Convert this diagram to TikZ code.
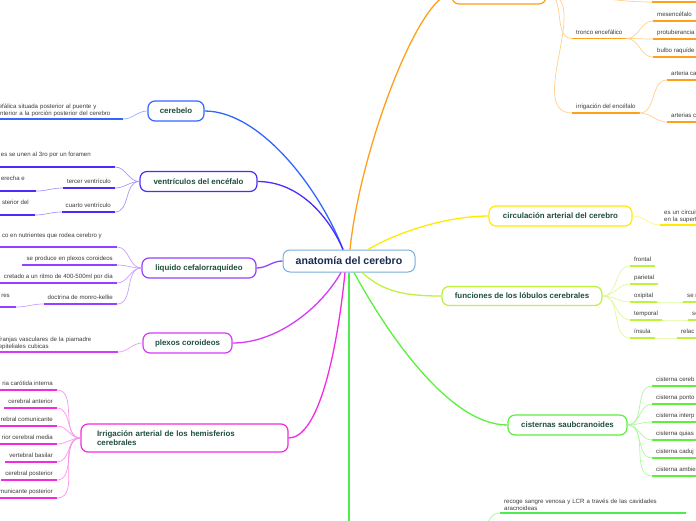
\documentclass[tikz,border=0pt]{standalone}
\usepackage{fontspec}
\setmainfont{Liberation Sans}
\usepackage{tikz}
\usetikzlibrary{positioning, calc}
\definecolor{anRoot}{HTML}{78AEDD}
\definecolor{anRootText}{HTML}{1A2A4F}
\definecolor{anText}{HTML}{1F4E3D}
\definecolor{anLeaf}{HTML}{3A3A3A}
\definecolor{anCereb}{HTML}{3366FF}
\definecolor{anVent}{HTML}{4A2CFF}
\definecolor{anLiq}{HTML}{9440FF}
\definecolor{anPlex}{HTML}{D63AF9}
\definecolor{anIrr}{HTML}{F42AE0}
\definecolor{anTronco}{HTML}{FF9F1C}
\definecolor{anCirc}{HTML}{FFEA00}
\definecolor{anFunc}{HTML}{BFF23A}
\definecolor{anCist}{HTML}{5CF03C}
\definecolor{anVenas}{HTML}{4DEB4D}
\newcommand{\leaffont}{\fontsize{6.1}{7}\selectfont}
\newcommand{\topicfont}{\bfseries\fontsize{7.9}{9}\selectfont}
\newcommand{\rootfont}{\bfseries\fontsize{10.6}{12}\selectfont}
\tikzset{
  uline/.style={append after command={
    (\tikzlastnode.south west) edge[draw=#1, line width=1.8pt] (\tikzlastnode.south east)}},
  leaf/.style={uline=#1, font=\leaffont, text=anLeaf, inner xsep=4pt,
    inner ysep=2.3pt, text height=4.5pt, text depth=1.6pt},
  note/.style={uline=#1, font=\leaffont, text=anLeaf, inner xsep=4pt,
    inner ysep=2.3pt, align=left},
  topic/.style={draw=#1, fill=white, line width=1.2pt, rounded corners=7pt,
    font=\topicfont, text=anText, minimum height=20pt, inner sep=2pt},
  rootbox/.style={draw=anRoot, fill=white, line width=1pt, rounded corners=7pt,
    font=\rootfont, text=anRootText, minimum width=132pt, minimum height=22pt},
  branch/.style={draw=#1, line width=1.3pt},
  twig/.style={draw=#1!50, line width=0.7pt}
}
\begin{document}
\begin{tikzpicture}[x=1pt, y=-1pt]
  \useasboundingbox (0,0) rectangle (696,520);
  \clip (0,0) rectangle (696,520);

  % topics
  \node[rootbox] (root) at (349,261) {anatomía del cerebro};
  \node[topic=anCereb, minimum width=56pt] (cereb) at (176,111) {cerebelo};
  \node[topic=anVent, minimum width=117pt] (vent) at (198.5,181.5) {ventrículos del encéfalo};
  \node[topic=anLiq, minimum width=114pt] (liq) at (199,268) {liquido cefalorraquídeo};
  \node[topic=anPlex, minimum width=89pt] (plex) at (187.5,343) {plexos coroideos};
  \node[topic=anIrr, minimum height=28pt, text width=175pt, align=left, inner xsep=16pt]
    (irr) at (184.5,438) {Irrigación arterial de los hemisferios\\cerebrales};
  \node[topic=anTronco, minimum width=94pt] (encefalo) at (499,-6) {};
  \node[topic=anCirc, minimum width=143pt] (circ) at (560.5,216) {circulación arterial del cerebro};
  \node[topic=anFunc, minimum width=160pt, minimum height=19pt] (func) at (522,296) {funciones de los lóbulos cerebrales};
  \node[topic=anCist, minimum width=119pt] (cist) at (567.5,425) {cisternas saubcranoides};
  \coordinate (venas) at (349,560);
  \coordinate (senos) at (470,545);

  \draw[branch=anCereb] ([xshift=-6pt]root.north) .. controls +(-23,-60) and +(56,0) .. (cereb.east);
  \draw[branch=anVent] ([xshift=-6pt]root.north) .. controls +(-15,-35) and +(40,0) .. (vent.east);
  \draw[branch=anLiq] (root.west) to[out=180,in=0] (liq.east);
  \draw[branch=anPlex] ([xshift=-8pt]root.south) .. controls +(-20,35) and +(45,0) .. (plex.east);
  \draw[branch=anIrr] ([xshift=-4pt]root.south) .. controls +(-8,80) and +(30,0) .. (irr.east);
  \draw[branch=anTronco] ([xshift=1pt]root.north) .. controls +(10,-100) and +(-32,0) .. (encefalo.west);
  \draw[branch=anCirc] ([xshift=19pt]root.north) .. controls +(30,-18) and +(-40,0) .. (circ.west);
  \draw[branch=anFunc] ([xshift=13pt]root.south) .. controls +(20,18) and +(-40,0) .. (func.west);
  \draw[branch=anCist] ([xshift=5pt]root.south) .. controls +(30,55) and +(-60,0) .. (cist.west);
  \draw[branch=anVenas] (root.south) -- (venas);

  % cerebelo
  \node[note=anCereb, anchor=south east, text width=120pt] (cb1) at (123,119)
    {efálica situada posterior al puente y\\interior a la porción posterior del cerebro};
  \draw[twig=anCereb] (cereb.west) to[out=180,in=0] (cb1.south east);

  % ventriculos
  \node[leaf=anVent, anchor=south east, inner xsep=24pt, text depth=8.5pt] (v1) at (115,167) {es se unen al 3ro por un foramen};
  \node[leaf=anVent, anchor=south east] (v2) at (115,188) {tercer ventrículo};
  \node[leaf=anVent, anchor=south east] (v3) at (115,212) {cuarto ventrículo};
  \node[leaf=anVent, anchor=south east, inner xsep=11pt, text depth=8.5pt] (v2a) at (36,191) {erecha e};
  \node[leaf=anVent, anchor=south east, inner xsep=6pt, text depth=8.5pt] (v3a) at (35,215) {sterior del};
  \foreach \n in {v1,v2,v3}
    \draw[twig=anVent] (vent.west) to[out=180,in=0] (\n.south east);
  \draw[twig=anVent] (v2.south west) to[out=180,in=0] (v2a.south east);
  \draw[twig=anVent] (v3.south west) to[out=180,in=0] (v3a.south east);

  % liquido
  \node[leaf=anLiq, anchor=south east, inner xsep=15pt, text depth=7.5pt] (l1) at (117,247) {co en nutrientes que rodea cerebro y};
  \node[leaf=anLiq, anchor=south east] (l2) at (117,265) {se produce en plexos coroideos};
  \node[leaf=anLiq, anchor=south east] (l3) at (117,283) {cretado a un ritmo de 400-500ml por día};
  \node[leaf=anLiq, anchor=south east] (l4) at (117,304) {doctrina de monro-kellie};
  \node[leaf=anLiq, anchor=south east, inner xsep=6pt, text depth=7.5pt] (l4a) at (16,307) {res};
  \foreach \n in {l1,l2,l3,l4}
    \draw[twig=anLiq] (liq.west) to[out=180,in=0] (\n.south east);
  \draw[twig=anLiq] (l4.south west) to[out=180,in=0] (l4a.south east);

  % plexos
  \node[note=anPlex, anchor=south east, text width=115pt] (p1) at (118,352)
    {franjas vasculares de la piamadre\\epiteliales cubicas};
  \draw[twig=anPlex] (plex.west) to[out=180,in=0] (p1.south east);

  % irrigacion de los hemisferios
  \foreach \i/\txt in {1/ria carótida interna, 2/cerebral anterior, 3/rebral comunicante,
      4/rior cerebral media, 5/vertebral basilar, 6/cerebral posterior, 7/municante posterior}{
    \node[leaf=anIrr, anchor=south east] (ir\i) at (57,{372+18*\i}) {\txt};
    \draw[twig=anIrr] (irr.west) to[out=180,in=0] (ir\i.south east);
  }

  % encefalo
  \node[leaf=anTronco, anchor=south west, minimum width=50pt] (o0) at (652,2) {};
  \node[leaf=anTronco, anchor=south west] (o1) at (572,38.5) {tronco encefálico};
  \node[leaf=anTronco, anchor=south west] (o2) at (572,113) {irrigación del encéfalo};
  \node[leaf=anTronco, anchor=south west] (o1a) at (653,21) {mesencéfalo};
  \node[leaf=anTronco, anchor=south west] (o1b) at (653,39) {protuberancia};
  \node[leaf=anTronco, anchor=south west] (o1c) at (653,57) {bulbo raquíde};
  \node[leaf=anTronco, anchor=south west] (o2a) at (667,80) {arteria ca};
  \node[leaf=anTronco, anchor=south west] (o2b) at (667,122) {arterias c};
  \foreach \n in {o0,o1,o2}
    \draw[twig=anTronco] (encefalo.east) to[out=0,in=180] (\n.south west);
  \foreach \n in {o1a,o1b,o1c}
    \draw[twig=anTronco] (o1.south east) to[out=0,in=180] (\n.south west);
  \foreach \n in {o2a,o2b}
    \draw[twig=anTronco] (o2.south east) to[out=0,in=180] (\n.south west);

  % circulacion
  \node[note=anCirc, anchor=south west, text width=40pt] (c1) at (660,225) {es un circuit\\en la superf};
  \draw[twig=anCirc] (circ.east) to[out=0,in=180] (c1.south west);

  % funciones
  \foreach \i/\txt in {1/frontal, 2/parietal, 3/oxipital, 4/temporal, 5/ínsula}{
    \node[leaf=anFunc, anchor=south west] (f\i) at (630,{248+18*\i}) {\txt};
    \draw[twig=anFunc] (func.east) to[out=0,in=180] (f\i.south west);
  }
  \node[leaf=anFunc, anchor=south west] (f3a) at (683,302) {se n};
  \node[leaf=anFunc, anchor=south west] (f4a) at (688,320) {se};
  \node[leaf=anFunc, anchor=south west] (f5a) at (677,338) {relac};
  \foreach \n in {3,4,5}
    \draw[twig=anFunc] (f\n.south east) to[out=0,in=180] (f\n a.south west);

  % cisternas
  \foreach \i/\txt in {1/cisterna cereb, 2/cisterna ponto, 3/cisterna interp,
      4/cisterna quias, 5/cisterna caduj, 6/cisterna ambie}{
    \node[leaf=anCist, anchor=south west] (ci\i) at (652,{368+18*\i}) {\txt};
    \draw[twig=anCist] (cist.east) to[out=0,in=180] (ci\i.south west);
  }

  % senos
  \node[note=anVenas, anchor=south west, text width=178pt] (rec) at (500,513)
    {recoge sangre venosa y LCR a través de las cavidades\\aracnoideas};
  \draw[twig=anVenas] (senos) to[out=0,in=180] (rec.south west);
\end{tikzpicture}
\end{document}
